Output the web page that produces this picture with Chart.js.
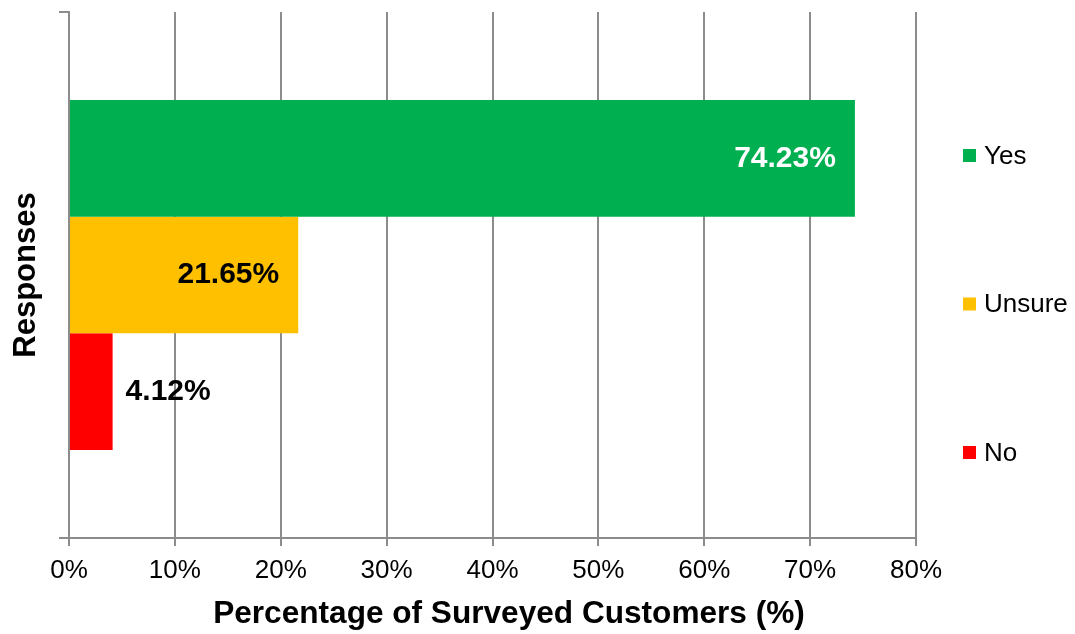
<!DOCTYPE html>
<html>
<head>
<meta charset="utf-8">
<title>Survey responses</title>
<script src="https://cdn.jsdelivr.net/npm/chart.js@4/dist/chart.umd.min.js"></script>
<style>
  html, body { margin: 0; padding: 0; background: #fff; }
  #wrap { width: 1075px; height: 634px; position: relative; }
</style>
</head>
<body>
<div id="wrap"><canvas id="chart"></canvas></div>
<script>
// answers and their share of surveyed customers (%)
const responses = ['Yes', 'Unsure', 'No'];
const shares = [74.23, 21.65, 4.12];
const xTickValues = [0, 10, 20, 30, 40, 50, 60, 70, 80];

const colours = ['#00b050', '#ffc000', '#ff0000'];
const labelInk = ['#ffffff', '#000000', '#000000'];
const GRID = '#8c8c8c';
const FONT = '"Liberation Sans", Arial, sans-serif';

// value labels: inside the bar end when it fits, otherwise just past it
const valueLabels = {
  id: 'valueLabels',
  afterDatasetsDraw(chart) {
    const ctx = chart.ctx;
    ctx.save();
    ctx.font = 'bold 30px ' + FONT;
    ctx.textBaseline = 'middle';
    chart.data.datasets.forEach((ds, i) => {
      const bar = chart.getDatasetMeta(i).data[0];
      const text = ds.data[0].toFixed(2) + '%';
      const w = ctx.measureText(text).width;
      if (bar.x - bar.base > w + 40) {
        ctx.textAlign = 'right';
        ctx.fillStyle = labelInk[i];
        ctx.fillText(text, bar.x - 19, bar.y);
      } else {
        ctx.textAlign = 'left';
        ctx.fillStyle = '#000';
        ctx.fillText(text, bar.x + 13, bar.y);
      }
    });
    ctx.restore();
  }
};

// spaced-out legend on the right plus the x axis title
const sideLegend = {
  id: 'sideLegend',
  afterDraw(chart) {
    const ctx = chart.ctx;
    ctx.save();
    ctx.font = '26px ' + FONT;
    ctx.textBaseline = 'middle';
    ctx.textAlign = 'left';
    chart.data.datasets.forEach((ds, i) => {
      const y = 155.5 + i * 148.5;
      ctx.fillStyle = ds.backgroundColor;
      ctx.fillRect(963, y - 6.5, 13, 13);
      ctx.fillStyle = '#000';
      ctx.fillText(ds.label, 984, y + 1);
    });
    ctx.font = 'bold 31.6px ' + FONT;
    ctx.textAlign = 'center';
    ctx.fillText('Percentage of Surveyed Customers (%)', 509, 614);
    ctx.restore();
  }
};

new Chart(document.getElementById('chart'), {
  type: 'bar',
  data: {
    labels: [''],
    datasets: responses.map((r, i) => ({
      label: r,
      data: [shares[i]],
      backgroundColor: colours[i],
      borderWidth: 0,
      barPercentage: 1,
      categoryPercentage: 0.665
    }))
  },
  options: {
    indexAxis: 'y',
    responsive: true,
    maintainAspectRatio: false,
    animation: false,
    layout: { padding: { top: 12, right: 159, left: 0, bottom: 0 } },
    plugins: {
      legend: { display: false },
      tooltip: { enabled: false }
    },
    scales: {
      x: {
        min: xTickValues[0],
        max: xTickValues[xTickValues.length - 1],
        afterBuildTicks: s => { s.ticks = xTickValues.map(v => ({ value: v })); },
        ticks: {
          callback: v => v + '%',
          font: { family: FONT, size: 26 },
          color: '#000',
          padding: 9,
          maxRotation: 0
        },
        grid: { color: GRID, lineWidth: 2, tickLength: 8 },
        border: { color: GRID, width: 2 },
        afterFit: s => { s.height = 96; }
      },
      y: {
        ticks: { display: false },
        grid: { color: GRID, lineWidth: 2, tickLength: 10, drawOnChartArea: false, offset: true },
        border: { color: GRID, width: 2 },
        title: {
          display: true,
          text: 'Responses',
          color: '#000',
          font: { family: FONT, size: 31, weight: 'bold' },
          padding: { top: 8, bottom: 0 }
        },
        afterFit: s => { s.width = 69; }
      }
    }
  },
  plugins: [valueLabels, sideLegend]
});
</script>
</body>
</html>
